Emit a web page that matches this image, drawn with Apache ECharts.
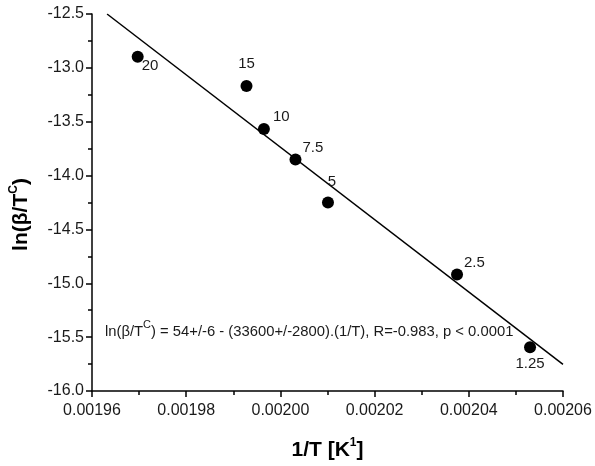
<!DOCTYPE html>
<html>
<head>
<meta charset="utf-8">
<script src="https://cdn.jsdelivr.net/npm/echarts@6/dist/echarts.min.js"></script>
<style>
  html, body { margin: 0; padding: 0; background: #fff; }
  #chart { width: 595px; height: 466px; }
</style>
</head>
<body>
<div id="chart"></div>
<script>
// 数据
const invT = [0.0019697, 0.0019928, 0.0019965, 0.0020032, 0.0020101, 0.0020375, 0.0020530];
const lnBeta = [-12.896, -13.169, -13.568, -13.851, -14.250, -14.919, -15.594];
const rates = ['20', '15', '10', '7.5', '5', '2.5', '1.25'];
// 拟合直线两端
const fitX = [0.0019632, 0.00206];
const fitY = [-12.5, -15.753];

const labelPos = {
  '20': { position: 'right', offset: [-7, 9] },
  '15': { position: 'top', offset: [0, -4] },
  '10': { position: 'right', offset: [-2, -12] },
  '7.5': { position: 'right', offset: [-4, -12] },
  '5': { position: 'top', offset: [4, -2] },
  '2.5': { position: 'right', offset: [-4, -12] },
  '1.25': { position: 'bottom', offset: [0, -2] }
};

const chart = echarts.init(document.getElementById('chart'));
const font = 'Liberation Sans, Arial, sans-serif';

const points = invT.map((x, i) => ({
  value: [x, lnBeta[i]],
  name: rates[i],
  label: labelPos[rates[i]]
}));

const titleRich = {
  b: { fontFamily: font, fontWeight: 'bold', fontSize: 21, color: '#000', lineHeight: 24, verticalAlign: 'bottom' },
  s: { fontFamily: font, fontWeight: 'bold', fontSize: 12, color: '#000', lineHeight: 24, verticalAlign: 'top', padding: [0, 0, 10, 0] }
};

const option = {
  animation: false,
  grid: { left: 91, top: 14, right: 32, bottom: 72 },
  xAxis: {
    type: 'value',
    min: 0.00196,
    max: 0.00206,
    interval: 0.00002,
    name: '{b|1/T [K}{s|1}{b|]}',
    nameLocation: 'middle',
    nameGap: 46,
    nameTextStyle: { rich: titleRich },
    axisLine: { lineStyle: { color: '#000', width: 1.5 } },
    axisTick: { inside: false, length: 6, lineStyle: { color: '#000', width: 1.5 } },
    minorTick: { show: true, splitNumber: 2, length: 4, lineStyle: { color: '#000', width: 1.5 } },
    splitLine: { show: false },
    axisLabel: {
      fontFamily: font, fontSize: 16, color: '#1a1a1a', margin: 12,
      formatter: v => v.toFixed(5)
    }
  },
  yAxis: {
    type: 'value',
    min: -16,
    max: -12.5,
    interval: 0.5,
    name: '{b|ln(β/T}{s|C}{b|)}',
    nameLocation: 'middle',
    nameGap: 60,
    nameRotate: 90,
    nameTextStyle: { padding: [0, 0, 0, -24], rich: titleRich },
    axisLine: { show: true, lineStyle: { color: '#000', width: 1.5 } },
    axisTick: { show: true, inside: false, length: 6, lineStyle: { color: '#000', width: 1.5 } },
    minorTick: { show: true, splitNumber: 2, length: 4, lineStyle: { color: '#000', width: 1.5 } },
    splitLine: { show: false },
    axisLabel: {
      fontFamily: font, fontSize: 16, color: '#1a1a1a', margin: 8,
      formatter: v => v.toFixed(1)
    }
  },
  graphic: [{
    type: 'text',
    left: 105,
    top: 319,
    style: {
      text: '{a|ln(β/T}{s|C}{a|) = 54+/-6 - (33600+/-2800).(1/T), R=-0.983, p < 0.0001}',
      rich: {
        a: { fontFamily: font, fontSize: 14.8, fill: '#1a1a1a', lineHeight: 20, verticalAlign: 'bottom' },
        s: { fontFamily: font, fontSize: 11, fill: '#1a1a1a', lineHeight: 20, verticalAlign: 'top', padding: [0, 0, 8, 0] }
      }
    }
  }],
  series: [
    {
      type: 'line',
      data: fitX.map((x, i) => [x, fitY[i]]),
      showSymbol: false,
      lineStyle: { color: '#000', width: 1.5 },
      z: 1
    },
    {
      type: 'scatter',
      data: points,
      symbol: 'circle',
      symbolSize: 12,
      itemStyle: { color: '#000', opacity: 1 },
      label: {
        show: true,
        formatter: p => p.name,
        fontFamily: font, fontSize: 15, color: '#1a1a1a'
      },
      z: 2
    }
  ]
};

chart.setOption(option);
</script>
</body>
</html>
